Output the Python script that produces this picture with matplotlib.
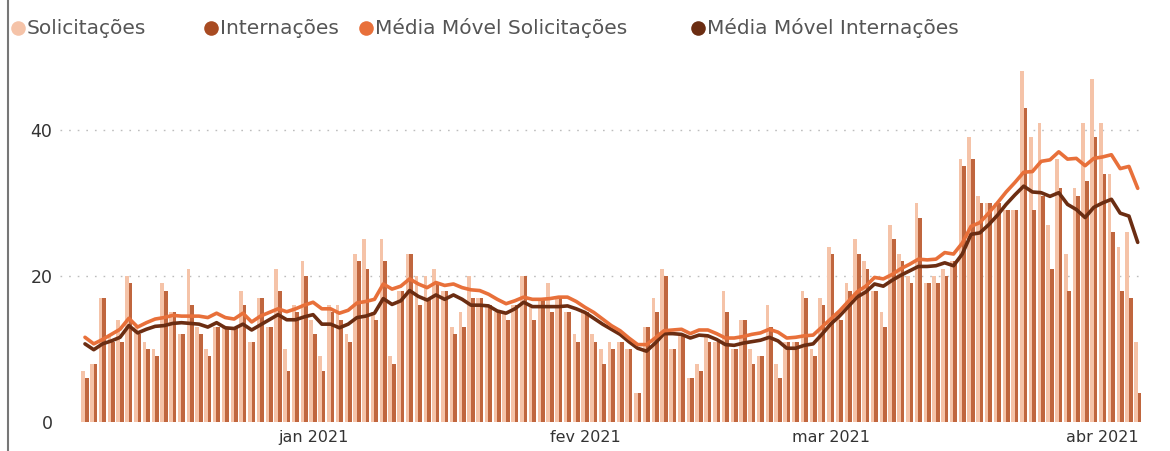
import numpy as np
import pandas as pd
import matplotlib
matplotlib.use("Agg")
import matplotlib.pyplot as plt
import matplotlib.dates as mdates
from matplotlib.lines import Line2D

# ---------------- data ----------------
dates = pd.date_range("2020-12-06", "2021-04-05", freq="D")

solicitacoes = [7, 8, 17, 12, 14, 20, 13, 11, 10, 19,
                15, 12, 21, 13, 10, 13, 13, 13, 18, 11,
                17, 13, 21, 10, 16, 22, 14, 9, 16, 16,
                12, 23, 25, 15, 25, 9, 18, 23, 20, 20,
                21, 18, 13, 15, 20, 17, 16, 15, 15, 16,
                20, 16, 17, 19, 17, 15, 12, 15, 12, 10,
                11, 11, 10, 4, 13, 17, 21, 10, 12, 6,
                8, 12, 11, 18, 10, 14, 10, 9, 16, 8,
                11, 11, 18, 10, 17, 24, 15, 19, 25, 22,
                18, 15, 27, 23, 20, 30, 19, 20, 21, 22,
                36, 39, 31, 30, 30, 29, 29, 48, 39, 41,
                27, 36, 23, 32, 41, 47, 41, 34, 24, 26,
                11]

internacoes = [6, 8, 17, 11, 11, 19, 12, 10, 9, 18,
               15, 12, 16, 12, 9, 13, 13, 13, 16, 11,
               17, 13, 18, 7, 15, 20, 12, 7, 15, 14,
               11, 22, 21, 14, 22, 8, 18, 23, 16, 17,
               19, 18, 12, 13, 17, 17, 16, 15, 14, 16,
               20, 14, 17, 15, 17, 15, 11, 15, 11, 8,
               10, 11, 10, 4, 13, 15, 20, 10, 12, 6,
               7, 11, 11, 15, 10, 14, 8, 9, 13, 6,
               11, 11, 17, 9, 16, 23, 14, 18, 23, 21,
               18, 13, 25, 22, 19, 28, 19, 19, 20, 22,
               35, 36, 30, 30, 30, 29, 29, 43, 29, 31,
               21, 32, 18, 31, 33, 39, 34, 26, 18, 17,
               4]

mm_solicitacoes = [11.6, 10.7, 11.3, 12, 12.7, 14.2, 13, 13.6, 14.1, 14.3,
                   14.6, 14.5, 14.5, 14.5, 14.3, 14.9, 14.3, 14.1, 14.9, 13.7,
                   14.5, 15, 15.5, 15.1, 15.5, 16, 16.4, 15.5, 15.5, 14.9,
                   15.3, 16.3, 16.5, 16.8, 18.9, 18.2, 18.6, 19.6, 18.9, 18.4,
                   19.1, 18.7, 18.9, 18.4, 18.1, 18, 17.5, 16.8, 16.2, 16.6,
                   17.1, 16.8, 16.8, 16.9, 17.1, 17.1, 16.5, 15.7, 15, 14.1,
                   13.2, 12.5, 11.5, 10.6, 10.6, 11.5, 12.5, 12.6, 12.7, 12.1,
                   12.6, 12.6, 12.1, 11.5, 11.5, 11.7, 12, 12.2, 12.7, 12.3,
                   11.5, 11.6, 11.8, 11.9, 13, 14.1, 15.2, 16.5, 17.8, 18.6,
                   19.8, 19.6, 20.2, 21, 21.6, 22.3, 22.2, 22.3, 23.2, 23,
                   24.5, 26.8, 27.3, 28.6, 30, 31.5, 32.8, 34.2, 34.3, 35.7,
                   35.9, 37, 36, 36.1, 35.1, 36.1, 36.3, 36.6, 34.7, 35,
                   32]

mm_internacoes = [10.7, 9.9, 10.7, 11.1, 11.6, 13.2, 12.2, 12.7, 13.1, 13.2,
                  13.5, 13.6, 13.5, 13.4, 13, 13.6, 12.9, 12.8, 13.4, 12.6,
                  13.3, 14, 14.7, 14, 14, 14.4, 14.7, 13.4, 13.4, 12.9,
                  13.4, 14.3, 14.5, 14.9, 16.9, 16.1, 16.6, 18, 17.2, 16.7,
                  17.4, 16.8, 17.4, 16.8, 16, 16, 15.9, 15.2, 14.9, 15.5,
                  16.4, 15.8, 15.8, 15.8, 15.8, 15.9, 15.5, 15, 14.2, 13.4,
                  12.7, 12, 11, 10.1, 9.7, 10.8, 12.1, 12.1, 12, 11.5,
                  11.9, 11.8, 11.3, 10.6, 10.5, 10.8, 11, 11.2, 11.6, 11.1,
                  10.1, 10.1, 10.5, 10.7, 12, 13.4, 14.5, 15.8, 17.1, 17.8,
                  18.9, 18.6, 19.4, 20.1, 20.7, 21.3, 21.3, 21.4, 21.8, 21.4,
                  23, 25.7, 25.9, 27, 28.3, 29.8, 31.1, 32.3, 31.5, 31.4,
                  30.9, 31.4, 29.8, 29.1, 28, 29.4, 30, 30.5, 28.6, 28.2,
                  24.6]

month_ticks = ["2021-01-01", "2021-02-01", "2021-03-01", "2021-04-01"]
month_labels = ["jan 2021", "fev 2021", "mar 2021", "abr 2021"]
y_ticks = [0, 20, 40]

legend_labels = ["Solicitações", "Internações",
                 "Média Móvel Solicitações", "Média Móvel Internações"]

# ---------------- style ----------------
C_SOL = "#F5C3A8"
C_INT = "#C0663E"
C_MMS = "#E8703A"
C_MMI = "#6B2D12"
C_LEG_INT = "#A84B22"
TXT = "#555555"

plt.rcParams["font.family"] = ["DejaVu Sans"]

W, H = 1170, 451
fig = plt.figure(figsize=(W / 100, H / 100), dpi=100)
fig.patch.set_facecolor("white")

ax = fig.add_axes([72 / W, 29 / H, 1078 / W, 360 / H])
ax.set_facecolor("none")

x = mdates.date2num(dates.to_pydatetime())
ax.bar(x - 0.2, solicitacoes, width=0.42, color=C_SOL, zorder=2, linewidth=0)
ax.bar(x + 0.2, internacoes, width=0.42, color=C_INT, zorder=2, linewidth=0)
ax.plot(x, mm_solicitacoes, color=C_MMS, lw=2.6, zorder=4,
        solid_joinstyle="round", solid_capstyle="round")
ax.plot(x, mm_internacoes, color=C_MMI, lw=2.6, zorder=3,
        solid_joinstyle="round", solid_capstyle="round")

ax.set_xlim(x[0] - 1.48, x[0] + 121.4)
ax.set_ylim(0, 49.3)

for gy in y_ticks[1:]:
    ax.axhline(gy, xmin=-0.011, xmax=0.99, clip_on=False,
               color="#BDBDBD", lw=1.0, linestyle=(0, (1.2, 5)), zorder=1)

ax.set_yticks(y_ticks)
ax.set_yticklabels([str(v) for v in y_ticks], fontsize=12.5, color="#333333")
tick_pos = mdates.date2num(pd.to_datetime(month_ticks).to_pydatetime())
ax.set_xticks(tick_pos)
ax.set_xticklabels(month_labels, fontsize=11.5, color="#333333")
ax.tick_params(axis="both", length=0)
ax.tick_params(axis="y", pad=14)
ax.tick_params(axis="x", pad=6)
for s in ax.spines.values():
    s.set_visible(False)

# ---------------- legend ----------------
leg_y = 1 - 28 / H
items = [(18, C_SOL), (211, C_LEG_INT), (366, C_MMS), (698, C_MMI)]
for (px, col), lab in zip(items, legend_labels):
    fig.add_artist(Line2D([px / W], [leg_y], marker="o", markersize=10.5,
                          color=col, markeredgewidth=0, transform=fig.transFigure))
    fig.text((px + 9) / W, leg_y, lab, fontsize=14.5, color=TXT,
             va="center", ha="left")

# left border
fig.add_artist(Line2D([8 / W, 8 / W], [0, 1], color="#777777", lw=1.5,
                      transform=fig.transFigure))

fig.savefig("out.png", dpi=100, facecolor="white")
